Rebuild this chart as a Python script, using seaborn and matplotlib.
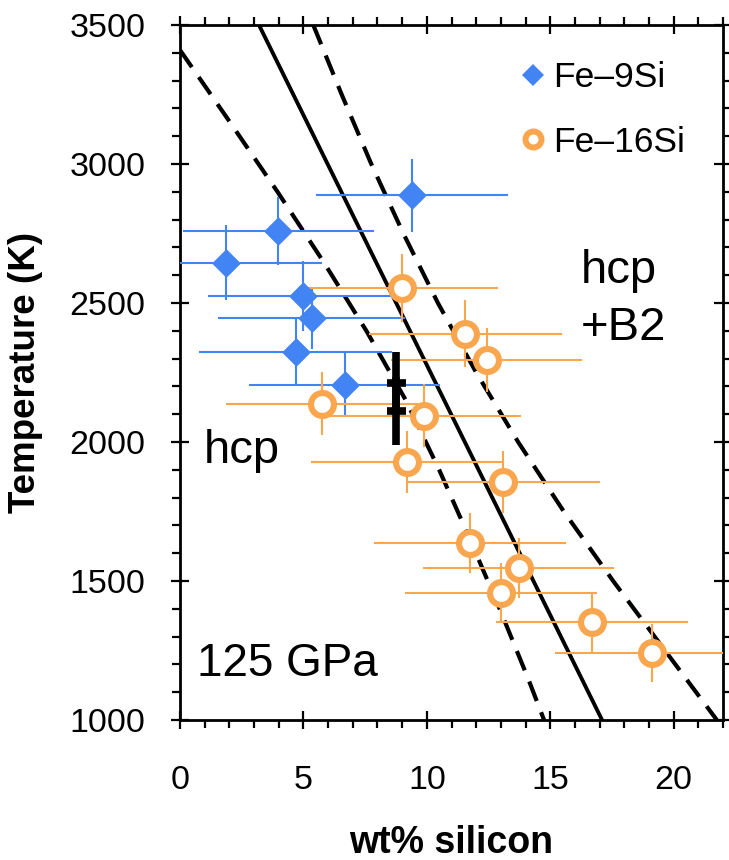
import matplotlib
matplotlib.use("Agg")
import matplotlib.pyplot as plt
from matplotlib.lines import Line2D
from matplotlib.ticker import MultipleLocator
import seaborn as sns

# ---------------- data ----------------
fe9_si = [9.39, 3.99, 1.87, 5.00, 5.33, 4.68, 6.67]
fe9_T = [2887, 2759, 2644, 2526, 2446, 2324, 2206]
fe9_si_err = [3.90, 3.87, 3.90, 3.87, 3.80, 3.90, 3.87]
fe9_T_err = [130, 124, 135, 126, 110, 120, 114]

fe16_si = [9.00, 11.56, 12.43, 5.76, 9.89, 9.19, 13.10, 11.76, 13.72, 13.00, 16.70, 19.11]
fe16_T = [2554, 2390, 2294, 2138, 2095, 1928, 1855, 1635, 1548, 1458, 1351, 1241]
fe16_si_err = [3.87, 3.90, 3.87, 3.90, 3.92, 3.90, 3.90, 3.88, 3.88, 3.89, 3.89, 3.90]
fe16_T_err = [121, 122, 115, 114, 114, 110, 112, 108, 108, 105, 107, 104]

ref_si = [8.76, 8.76]
ref_T = [2212, 2112]
ref_si_err = [0.38, 0.38]
ref_T_err = [113, 123]

fit_si = [3.2, 17.1]
fit_T = [3500, 1000]

lower_si = [0.0, 1.95, 3.95, 5.8, 7.55, 9.15, 10.5, 11.75, 12.95, 14.1, 14.75]
lower_T = [3410, 3160, 2900, 2650, 2400, 2150, 1900, 1650, 1400, 1150, 1000]
upper_si = [5.40, 6.55, 7.75, 9.05, 10.45, 12.0, 13.7, 15.55, 17.55, 19.65, 21.75]
upper_T = [3500, 3250, 3000, 2750, 2500, 2250, 2000, 1750, 1500, 1250, 1000]

x_ticks = [0, 5, 10, 15, 20]
y_ticks = [1000, 1500, 2000, 2500, 3000, 3500]

BLUE = "#4384F4"
ORANGE = "#F9A64F"

# ---------------- style ----------------
sns.set_theme(style="ticks")
plt.rcParams["font.family"] = ["Liberation Sans", "DejaVu Sans"]
plt.rcParams["text.color"] = "black"
plt.rcParams["axes.labelcolor"] = "black"
plt.rcParams["xtick.color"] = "black"
plt.rcParams["ytick.color"] = "black"

fig = plt.figure(figsize=(7.29, 8.6), dpi=100)
ax = fig.add_axes([180 / 729, 1 - 720 / 860, 543 / 729, 695 / 860])

# boundary and confidence band
sns.lineplot(x=fit_si, y=fit_T, sort=False, estimator=None, color="black",
             linewidth=2.8, ax=ax, zorder=2)
for xs, ys in [(lower_si, lower_T), (upper_si, upper_T)]:
    sns.lineplot(x=xs, y=ys, sort=False, estimator=None, color="black",
                 linewidth=3.0, linestyle=(0, (5.0, 2.9)), ax=ax, zorder=2)

# error bars
ax.errorbar(fe9_si, fe9_T, xerr=fe9_si_err, yerr=fe9_T_err, fmt="none",
            ecolor=BLUE, elinewidth=1.5, capsize=0, zorder=3)
ax.errorbar(fe16_si, fe16_T, xerr=fe16_si_err, yerr=fe16_T_err, fmt="none",
            ecolor=ORANGE, elinewidth=1.5, capsize=0, zorder=3)
ax.errorbar(ref_si, ref_T, xerr=ref_si_err, yerr=ref_T_err, fmt="none",
            ecolor="black", elinewidth=5.5, capsize=0, zorder=3.5)

# markers
sns.scatterplot(x=fe9_si, y=fe9_T, marker="D", s=215, color=BLUE,
                linewidth=0, ax=ax, zorder=4, legend=False)
sns.scatterplot(x=fe16_si, y=fe16_T, marker="o", s=272, color="white",
                edgecolor=ORANGE, linewidth=4.4, ax=ax, zorder=4, legend=False)

# axes
ax.set_xlim(0, 22)
ax.set_ylim(1000, 3500)
ax.set_xticks(x_ticks)
ax.set_yticks(y_ticks)
ax.xaxis.set_minor_locator(MultipleLocator(1))
ax.yaxis.set_minor_locator(MultipleLocator(100))
ax.tick_params(which="major", direction="inout", length=13, width=1.6,
               top=True, right=True, labelsize=24.5, colors="black")
ax.tick_params(which="minor", direction="out", length=5.8, width=1.6,
               top=True, right=True, colors="black")
ax.tick_params(axis="x", which="major", pad=26)
ax.tick_params(axis="y", which="major", pad=18.5)
for sp in ax.spines.values():
    sp.set_visible(True)
    sp.set_linewidth(2.0)
    sp.set_color("black")
ax.grid(False)
ax.set_facecolor("white")

ax.set_xlabel("wt% silicon", fontsize=27, fontweight="bold", color="black")
ax.set_ylabel("Temperature (K)", fontsize=26.5, fontweight="bold", color="black")
ax.xaxis.set_label_coords(0.5, -0.151)
ax.yaxis.set_label_coords(-0.252, 0.5)

# annotations
ax.text(0.97, 1925, "hcp", fontsize=34, va="baseline", ha="left")
ax.text(16.25, 2572, "hcp", fontsize=34, va="baseline", ha="left")
ax.text(16.25, 2367, "+B2", fontsize=34, va="baseline", ha="left")
ax.text(0.69, 1158, "125 GPa", fontsize=33, va="baseline", ha="left")

# legend
handles = [
    Line2D([], [], marker="D", linestyle="none", color=BLUE, markersize=11,
           markeredgewidth=0),
    Line2D([], [], marker="o", linestyle="none", markerfacecolor="white",
           markeredgecolor=ORANGE, markersize=11.5, markeredgewidth=4.3),
]
leg = ax.legend(handles, ["Fe\u20139Si", "Fe\u201316Si"], loc="upper left",
                bbox_to_anchor=(519 / 729, 1 - 61 / 860),
                bbox_transform=fig.transFigure, frameon=False, fontsize=25.5,
                handlelength=0.8, handletextpad=0.15, labelspacing=0.9,
                borderpad=0, borderaxespad=0)

fig.savefig("out.png", dpi=100)
